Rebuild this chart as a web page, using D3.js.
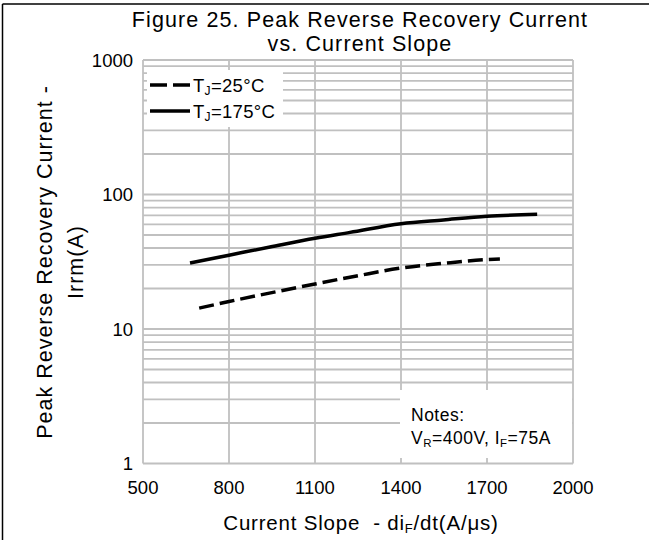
<!DOCTYPE html>
<html>
<head>
<meta charset="utf-8">
<script src="https://cdn.jsdelivr.net/npm/d3@7"></script>
<style>
  body { margin: 0; background: #fff; }
  text { font-family: "Liberation Sans", Arial, sans-serif; fill: #000; }
</style>
</head>
<body>
<script>
// data
const slope25 = [696, 800, 1100, 1250, 1400, 1550, 1700, 1745];
const irrm25 = [14.3, 16.0, 21.6, 24.9, 28.4, 30.8, 32.8, 33.1];
const slope175 = [664, 800, 943, 1100, 1222, 1400, 1548, 1700, 1875];
const irrm175 = [31.0, 35.4, 40.7, 47.3, 52.3, 60.7, 64.7, 68.8, 71.2];
const xTicks = [500, 800, 1100, 1400, 1700, 2000];
const yTicks = [1, 10, 100, 1000];

const W = 649, H = 540;
const svg = d3.select("body").append("svg").attr("width", W).attr("height", H);

// outer frame (only top/left visible in the crop)
svg.append("line").attr("x1", 2.5).attr("x2", W).attr("y1", 4).attr("y2", 4)
  .attr("stroke", "#000").attr("stroke-width", 1.5);
svg.append("line").attr("x1", 2.5).attr("x2", 2.5).attr("y1", 4).attr("y2", H)
  .attr("stroke", "#000").attr("stroke-width", 1.5);

const x = d3.scaleLinear().domain([500, 2000]).range([143, 573]);
const y = d3.scaleLog().domain([1, 1000]).range([463.5, 60]);

// minor + major horizontal grid values
const yGrid = [];
for (let e = 0; e < 3; e++) {
  for (let k = 1; k < 10; k++) yGrid.push(k * Math.pow(10, e));
}
yGrid.push(1000);

const grid = svg.append("g").attr("stroke", "#c0c0c0").attr("stroke-width", 1.8);
grid.selectAll("line.h").data(yGrid).enter().append("line")
  .attr("x1", x(500)).attr("x2", x(2000))
  .attr("y1", d => y(d)).attr("y2", d => y(d));
grid.selectAll("line.v").data(xTicks).enter().append("line")
  .attr("x1", d => x(d)).attr("x2", d => x(d))
  .attr("y1", y(1000)).attr("y2", y(1));

// tick labels
svg.append("g").selectAll("text").data(xTicks).enter().append("text")
  .attr("x", d => x(d)).attr("y", 494)
  .attr("text-anchor", "middle").attr("font-size", 18.5)
  .text(d => d);
svg.append("g").selectAll("text").data(yTicks).enter().append("text")
  .attr("x", 133).attr("y", d => y(d) + 6.5)
  .attr("text-anchor", "end").attr("font-size", 18.5)
  .text(d => d);

// curves
const line = d3.line().x(d => x(d[0])).y(d => y(d[1])).curve(d3.curveMonotoneX);
svg.append("path").datum(d3.zip(slope175, irrm175))
  .attr("d", line).attr("fill", "none").attr("stroke", "#000").attr("stroke-width", 3.5);
svg.append("path").datum(d3.zip(slope25, irrm25))
  .attr("d", line).attr("fill", "none").attr("stroke", "#000").attr("stroke-width", 3.5)
  .attr("stroke-dasharray", "15,6");

// legend box
svg.append("rect").attr("x", 147).attr("y", 70).attr("width", 136).attr("height", 57).attr("fill", "#fff");
const leg = svg.append("g");
leg.append("line").attr("x1", 150).attr("x2", 190).attr("y1", 85).attr("y2", 85)
  .attr("stroke", "#000").attr("stroke-width", 3.5).attr("stroke-dasharray", "17,6");
leg.append("line").attr("x1", 150).attr("x2", 190).attr("y1", 111).attr("y2", 111)
  .attr("stroke", "#000").attr("stroke-width", 3.5);
function tjLabel(yy, val) {
  const t = leg.append("text").attr("x", 193).attr("y", yy).attr("font-size", 18.5)
    .attr("letter-spacing", 0.3);
  t.append("tspan").text("T");
  t.append("tspan").attr("font-size", 12).attr("dy", 3).text("J");
  t.append("tspan").attr("dy", -3).text("=" + val + "°C");
}
tjLabel(91.5, 25);
tjLabel(117.5, 175);

// notes box
svg.append("rect").attr("x", 400).attr("y", 390).attr("width", 172).attr("height", 68).attr("fill", "#fff");
svg.append("text").attr("x", 411).attr("y", 421).attr("font-size", 17.5)
  .attr("letter-spacing", 0.5).text("Notes:");
const n2 = svg.append("text").attr("x", 411).attr("y", 444).attr("font-size", 17.5)
  .attr("letter-spacing", 0.5);
n2.append("tspan").text("V");
n2.append("tspan").attr("font-size", 11.5).attr("dy", 3).text("R");
n2.append("tspan").attr("dy", -3).text("=400V, I");
n2.append("tspan").attr("font-size", 11.5).attr("dy", 3).text("F");
n2.append("tspan").attr("dy", -3).text("=75A");

// title
const title = svg.append("text").attr("text-anchor", "middle").attr("font-size", 21.5)
  .attr("letter-spacing", 1.1);
title.append("tspan").attr("x", 360).attr("y", 27).text("Figure 25. Peak Reverse Recovery Current");
title.append("tspan").attr("x", 360).attr("y", 51).text("vs. Current Slope");

// axis titles
const xl = svg.append("text").attr("x", 361).attr("y", 530).attr("text-anchor", "middle")
  .attr("font-size", 20.5).attr("letter-spacing", 0.8);
xl.append("tspan").text("Current Slope \u00a0- di");
xl.append("tspan").attr("font-size", 13).attr("dy", 3).text("F");
xl.append("tspan").attr("dy", -3).text("/dt(A/μs)");

const yl = svg.append("text").attr("transform", "translate(0,262) rotate(-90)")
  .attr("text-anchor", "middle").attr("font-size", 21.5).attr("letter-spacing", 1.0);
yl.append("tspan").attr("x", 0).attr("y", 52).text("Peak Reverse Recovery Current -");
yl.append("tspan").attr("x", 0).attr("y", 83).text("Irrm(A)");
</script>
</body>
</html>
